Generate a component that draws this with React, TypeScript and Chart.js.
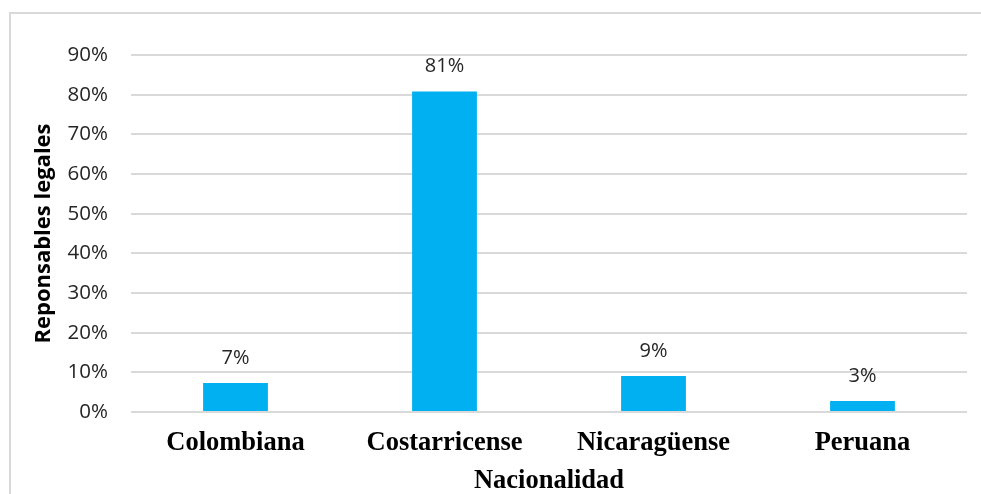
import React, { useEffect, useRef } from "react";
import { Chart, registerables, Plugin } from "chart.js";

Chart.register(...registerables);

const categories = ["Colombiana", "Costarricense", "Nicaragüense", "Peruana"];
const shares = [7.3, 80.8, 9.1, 2.8];
const yTickValues = [0, 10, 20, 30, 40, 50, 60, 70, 80, 90];

const BAR_COLOR = "#00b0f0";
const GRID_COLOR = "#d9d9d9";
const TEXT_COLOR = "#262626";

// Writes the rounded percentage above each bar
const barValueLabels: Plugin<"bar"> = {
  id: "barValueLabels",
  afterDatasetsDraw(chart) {
    const { ctx } = chart;
    const meta = chart.getDatasetMeta(0);
    const values = chart.data.datasets[0].data as number[];
    ctx.save();
    ctx.font = '20px "Open Sans"';
    ctx.fillStyle = TEXT_COLOR;
    ctx.textAlign = "center";
    ctx.textBaseline = "middle";
    meta.data.forEach((el, i) => {
      const { x, y } = el.getProps(["x", "y"], true) as { x: number; y: number };
      ctx.fillText(`${Math.round(values[i])}%`, x, y - 25);
    });
    ctx.restore();
  },
};

export default function App() {
  const canvasRef = useRef<HTMLCanvasElement | null>(null);

  useEffect(() => {
    if (!canvasRef.current) return;
    const chart = new Chart(canvasRef.current, {
      type: "bar",
      data: {
        labels: categories,
        datasets: [
          {
            data: shares,
            backgroundColor: BAR_COLOR,
            borderWidth: 0,
            categoryPercentage: 1,
            barPercentage: 0.31,
          },
        ],
      },
      options: {
        animation: false,
        responsive: false,
        maintainAspectRatio: false,
        layout: { padding: { left: 0, top: 55, right: 14, bottom: 0 } },
        plugins: {
          legend: { display: false },
          tooltip: { enabled: false },
        },
        scales: {
          x: {
            grid: { display: false, drawTicks: false },
            border: { display: false },
            ticks: {
              color: "#000",
              padding: 15,
              font: { family: '"Liberation Serif"', size: 26.5, weight: "bold" },
            },
            title: {
              display: true,
              text: "Nacionalidad",
              color: "#000",
              padding: { top: 0, bottom: -3 },
              font: { family: '"Liberation Serif"', size: 26.5, weight: "bold" },
            },
            afterFit(scale) {
              scale.height = 82;
            },
          },
          y: {
            min: 0,
            max: 90,
            afterBuildTicks(scale) {
              scale.ticks = yTickValues.map((v) => ({ value: v }));
            },
            grid: { color: GRID_COLOR, lineWidth: 2, drawTicks: false },
            border: { display: false },
            ticks: {
              color: TEXT_COLOR,
              padding: 23,
              font: { family: '"Open Sans"', size: 20.5 },
              callback: (v) => `${v}%`,
            },
            title: {
              display: true,
              text: "Reponsables legales",
              color: "#000",
              padding: { top: 31, bottom: 0 },
              font: { family: '"Open Sans"', size: 22, weight: "bold" },
            },
            afterFit(scale) {
              scale.width = 131;
            },
          },
        },
      },
      plugins: [barValueLabels],
    });
    return () => chart.destroy();
  }, []);

  return (
    <div
      style={{
        position: "fixed",
        left: 0,
        top: 0,
        width: 981,
        height: 494,
        overflow: "hidden",
        background: "#fff",
      }}
    >
      <div
        style={{
          position: "absolute",
          left: 9,
          top: 12,
          width: 1000,
          height: 520,
          border: `2px solid ${GRID_COLOR}`,
          boxSizing: "border-box",
        }}
      />
      <canvas
        ref={canvasRef}
        width={981}
        height={494}
        style={{ position: "absolute", left: 0, top: 0, width: 981, height: 494 }}
      />
    </div>
  );
}
